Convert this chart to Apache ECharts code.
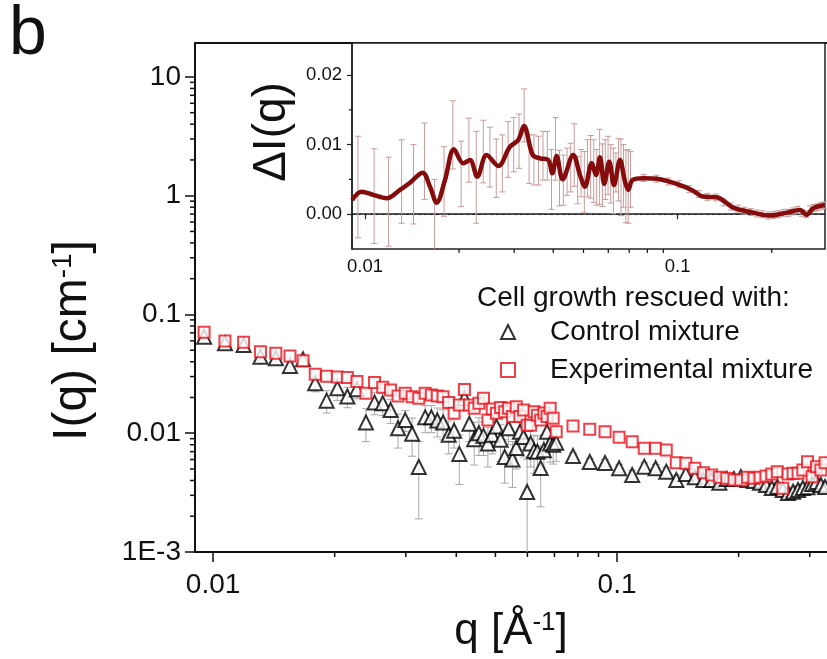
<!DOCTYPE html>
<html><head><meta charset="utf-8">
<script src="https://cdn.jsdelivr.net/npm/echarts@6/dist/echarts.min.js"></script>
<style>html,body{margin:0;padding:0;background:#fff}#c{width:827px;height:659px}</style>
</head><body><div id="c"></div>
<script>
// ---------------- data ----------------
const q = [0.0095,0.0107,0.0119,0.0131,0.0143,0.0155,0.0167,0.0179,0.0191,0.0203,0.0215,0.0227,0.0239,0.0251,0.0263,0.0275,0.0287,0.0299,0.0311,0.0323,0.0335,0.0347,0.0359,0.0371,0.0383,0.0395,0.0407,0.0419,0.0431,0.0443,0.0455,0.0467,0.0479,0.0491,0.0503,0.0515,0.0527,0.0539,0.0551,0.0563,0.0575,0.0587,0.0599,0.0611,0.0623,0.0635,0.0647,0.0659,0.0671,0.0683,0.0695,0.0707,
  0.0778,0.0856,0.0934,0.1012,0.1090,0.1168,0.1246,0.1324,0.1402,0.1480,0.1558,0.1636,0.1714,0.1792,0.1870,0.1948,0.2026,0.2104,0.2182,0.2260,0.2338,0.2416,0.2494,0.2572,0.2650,0.2728,0.2806,0.2884,0.2962,0.3040,0.3118,0.3196,0.3274];
const controlI = [0.0650,0.0572,0.0553,0.0441,0.0428,0.0369,0.0419,0.0263,0.0188,0.0239,0.0204,0.0235,0.0123,0.0181,0.0179,0.0157,0.0110,0.0129,0.0099,0.0052,0.0136,0.0136,0.0128,0.0123,0.0097,0.0105,0.0067,0.0197,0.0120,0.0089,0.0100,0.0095,0.0082,0.0097,0.0114,0.0088,0.0063,0.0110,0.0060,0.0075,0.0103,0.0093,0.0032,0.0082,0.0071,0.0070,0.0051,0.0072,0.0103,0.0082,0.0080,0.0083,
  0.00643,0.00573,0.00562,0.00507,0.00445,0.00523,0.00507,0.00475,0.00404,0.00454,0.00426,0.00404,0.00404,0.00383,0.00412,0.00411,0.00428,0.00404,0.00396,0.00383,0.00367,0.00346,0.00355,0.00333,0.00314,0.00322,0.00333,0.00346,0.00351,0.00374,0.00389,0.00367,0.00353];
const controlErr = [0.003,0.003,0.003,0.003,0.003,0.003,0.003,0.004,0.004,0.005,0.004,0.004,0.0038,0.0038,0.0038,0.0036,0.0035,0.0026,0.0035,0.0033,0.0035,0.0035,0.0035,0.0035,0.003,0.003,0.003,0.003,0.0035,0.0035,0.0035,0.003,0.003,0.003,0.003,0.003,0.0025,0.003,0.0025,0.0025,0.003,0.003,0.0028,0.003,0.0025,0.0025,0.0027,0.0025,0.0025,0.0025,0.0025,0.0025,
  0.0004,0.0004,0.0004,0.0004,0.0004,0.0004,0.0004,0.0004,0.0004,0.0004,0.0003,0.0003,0.0003,0.0003,0.0003,0.0003,0.0003,0.0003,0.0003,0.0003,0.0003,0.0003,0.0003,0.0003,0.0003,0.0003,0.0003,0.0003,0.0003,0.0003,0.0003,0.0003,0.0003];
const experimentalI = [0.0708,0.0598,0.0583,0.0486,0.0471,0.0447,0.0408,0.0314,0.0302,0.0298,0.0294,0.0272,0.0217,0.0267,0.0244,0.0231,0.0206,0.0217,0.0203,0.0197,0.0217,0.0210,0.0206,0.0203,0.0181,0.0147,0.0173,0.0234,0.0173,0.0162,0.0179,0.0197,0.0129,0.0160,0.0147,0.0165,0.0152,0.0162,0.0138,0.0167,0.0138,0.0157,0.0117,0.0117,0.0152,0.0142,0.0129,0.0148,0.0138,0.0162,0.0134,0.0103,
  0.01151,0.01080,0.0103,0.00925,0.00849,0.00747,0.00747,0.00723,0.00565,0.00558,0.00507,0.00465,0.00445,0.00426,0.00417,0.00404,0.00404,0.00426,0.00417,0.00426,0.00437,0.00454,0.00475,0.00344,0.00454,0.0046,0.0046,0.0049,0.00576,0.00431,0.00523,0.0049,0.00565];
const experimentalErr = [0.0015,0.0015,0.0015,0.0015,0.0015,0.0015,0.0015,0.0015,0.0015,0.0015,0.0015,0.0015,0.0015,0.0015,0.0015,0.0015,0.0015,0.0012,0.0012,0.0012,0.0012,0.0012,0.0012,0.0012,0.0012,0.0012,0.0012,0.0012,0.0012,0.0012,0.0012,0.0012,0.0012,0.0012,0.0012,0.0012,0.0012,0.0012,0.0012,0.0012,0.0012,0.0012,0.0012,0.0012,0.0012,0.0012,0.0012,0.0012,0.0012,0.0012,0.0012,0.0012,
  0.0003,0.0003,0.0003,0.0003,0.0003,0.0003,0.0003,0.0003,0.0003,0.0003,0.0003,0.0003,0.0003,0.0003,0.0003,0.0003,0.0003,0.0003,0.0003,0.0003,0.0003,0.0003,0.0003,0.0003,0.0003,0.0003,0.0003,0.0003,0.0003,0.0003,0.0003,0.0003,0.0003];

// inset: difference curve
const dqCurve = [0.0091,0.00976,0.01063,0.01173,0.01294,0.01393,0.01529,0.01614,0.01696,0.01803,0.01926,0.02063,0.02167,0.02286,0.0245,0.02669,0.02909,0.03092,0.03225,0.03439,0.03628,0.03857,0.03972,0.04102,0.04288,0.04636,0.04871,0.05053,0.05309,0.0548,0.05643,0.05825,0.06043,0.06257,0.06541,0.06786,0.0695,0.07178,0.07762,0.0878,0.09927,0.1109,0.1207,0.1333,0.1506,0.1745,0.1973,0.2232,0.2461,0.2585,0.2714,0.2959];
const dICurve = [0.00205,0.00324,0.00277,0.0023,0.00349,0.00453,0.00597,0.00396,0.00166,0.00492,0.00933,0.00732,0.00779,0.0054,0.00851,0.00693,0.0097,0.01066,0.01267,0.00851,0.00803,0.00779,0.00588,0.00836,0.00502,0.00851,0.00564,0.00396,0.00732,0.00564,0.00818,0.00435,0.00755,0.0042,0.00779,0.00468,0.00349,0.00492,0.00517,0.00502,0.00435,0.00349,0.00253,0.00244,0.00095,0.00023,-0.0002,0.00023,0.00062,-0.0001,0.00086,0.00133];
// inset: error bars at the measured q points
const dIPoint = [0.0039,0.0026,0.0018,0.0047,0.0043,0.0076,-0.0002,0.0047,0.0114,0.0058,0.0092,0.0053,0.0090,0.0082,0.0066,0.0073,0.0093,0.0100,0.0105,0.0142,0.0079,0.0078,0.0077,0.0084,0.0084,0.0050,0.0094,0.0052,0.0049,0.0061,0.0067,0.0085,0.0049,0.0059,0.0046,0.0066,0.0068,0.0062,0.0053,0.0068,0.0056,0.0064,0.0070,0.0058,0.0048,0.0060,0.0064,0.0053,0.0055,0.0040,0.0040,0.0050,
  0.0052,0.0051,0.0047,0.0043,0.0036,0.0029,0.0025,0.0024,0.0017,0.0011,0.0008,0.0005,0.0003,0.0001,0.0000,-0.0002,-0.0001,0.0000,0.0002,0.0002,0.0004,0.0006,0.0002,0.0000,0.0007,0.0009,0.0010,0.0012,0.0013];
const dIErr = [0.0073,0.0068,0.0064,0.0060,0.0057,0.0055,0.0052,0.0050,0.0049,0.0047,0.0046,0.0066,0.0045,0.0043,0.0042,0.0041,0.0040,0.0039,0.0039,0.0038,0.0035,0.0036,0.0035,0.0035,0.0035,0.0043,0.0045,0.0040,0.0036,0.0034,0.0035,0.0045,0.0034,0.0034,0.0044,0.0041,0.0045,0.0045,0.0040,0.0054,0.0045,0.0043,0.0042,0.0042,0.0047,0.0028,0.0045,0.0055,0.0045,0.0052,0.0053,0.0040,
  0.0005,0.0005,0.0005,0.0005,0.0005,0.0005,0.0005,0.0005,0.0005,0.0005,0.0005,0.0005,0.0005,0.0005,0.0005,0.0005,0.0005,0.0005,0.0005,0.0005,0.0005,0.0005,0.0005,0.0005,0.0005,0.0005,0.0005,0.0005,0.0005];

// ticks
const mainYTickValues = [0.001, 0.01, 0.1, 1, 10];
const mainYTickLabels = ['1E-3', '0.01', '0.1', '1', '10'];
const mainXTickValues = [0.01, 0.1];
const mainXTickLabels = ['0.01', '0.1'];
const insetYTickValues = [0, 0.01, 0.02];
const insetYTickLabels = ['0.00', '0.01', '0.02'];
const mainXMinor = [0.02,0.03,0.04,0.05,0.06,0.07,0.08,0.09,0.2,0.3];
const mainYMinor = [0.002,0.003,0.004,0.005,0.006,0.007,0.008,0.009,0.02,0.03,0.04,0.05,0.06,0.07,0.08,0.09,0.2,0.3,0.4,0.5,0.6,0.7,0.8,0.9,2,3,4,5,6,7,8,9];
const insetXMinor = [0.02,0.03,0.04,0.05,0.06,0.07,0.08,0.09,0.2];
const insetYMinor = [0.005, 0.015];

// ---------------- chart ----------------
const FONT = 'Liberation Sans, Arial, sans-serif';
const MX = [0.00902, 0.331], MY = [0.001, 19.3];
const IX = [0.00909, 0.296], IY = [-0.005, 0.0246];

function labelFor(values, labels) {
  return function (v) {
    for (let i = 0; i < values.length; i++) {
      if (Math.abs(v - values[i]) <= Math.abs(values[i]) * 1e-6 + 1e-12) return labels[i];
    }
    return '';
  };
}
function errRender(color, cap, lw, lo, hi) {
  return function (params, api) {
    const x = api.value(0), y = api.value(1), e = api.value(2);
    const y0 = Math.max(y - e, lo), y1 = Math.min(y + e, hi);
    const a = api.coord([x, y0]), b = api.coord([x, y1]);
    const st = { stroke: color, lineWidth: lw };
    const ch = [{ type: 'line', shape: { x1: a[0], y1: a[1], x2: b[0], y2: b[1] }, style: st }];
    if (y - e > lo) ch.push({ type: 'line', shape: { x1: a[0] - cap, y1: a[1], x2: a[0] + cap, y2: a[1] }, style: st });
    if (y + e < hi) ch.push({ type: 'line', shape: { x1: b[0] - cap, y1: b[1], x2: b[0] + cap, y2: b[1] }, style: st });
    return { type: 'group', children: ch };
  };
}
function minorX(len, width) {
  return function (params, api) {
    const p = api.coord([api.value(0), api.value(1)]);
    return { type: 'line', shape: { x1: p[0], y1: p[1], x2: p[0], y2: p[1] + len }, style: { stroke: '#111', lineWidth: width } };
  };
}
function minorY(len, width) {
  return function (params, api) {
    const p = api.coord([api.value(0), api.value(1)]);
    return { type: 'line', shape: { x1: p[0] - len, y1: p[1], x2: p[0], y2: p[1] }, style: { stroke: '#111', lineWidth: width } };
  };
}

const chart = echarts.init(document.getElementById('c'), null, { renderer: 'canvas' });
const axisTxt = { color: '#111', fontFamily: FONT };

chart.setOption({
  animation: false,
  backgroundColor: '#fff',
  title: [
    { text: 'b', left: 9, top: 1, padding: 0, textStyle: { fontSize: 68, fontWeight: 'normal', color: '#111', fontFamily: FONT } },
    { text: 'Cell growth rescued with:', left: 477, top: 284, padding: 0, textStyle: { fontSize: 28, fontWeight: 'normal', color: '#111', fontFamily: FONT } }
  ],
  legend: {
    data: ['Control mixture', 'Experimental mixture'],
    orient: 'vertical', left: 500, top: 318, padding: 0,
    itemWidth: 14, itemHeight: 14, itemGap: 10,
    textStyle: { fontSize: 28, color: '#111', fontFamily: FONT, padding: [0, 0, 0, 30] }
  },
  grid: [
    { left: 195, top: 43, right: 0, bottom: 107 },
    { left: 352, top: 43, right: 2, bottom: 410, show: true, backgroundColor: '#fff', borderColor: '#222', borderWidth: 1.5, z: 5 }
  ],
  xAxis: [
    { type: 'log', gridIndex: 0, min: MX[0], max: MX[1], position: 'bottom',
      axisLine: { lineStyle: { color: '#111', width: 2 } },
      axisTick: { inside: false, length: 10, lineStyle: { width: 1.5 } },
      axisLabel: { fontSize: 28, margin: 19, ...axisTxt, showMinLabel: false, showMaxLabel: false, formatter: labelFor(mainXTickValues, mainXTickLabels) },
      splitLine: { show: false }, minorTick: { show: false },
      name: '{a|q [Å}{s|-1}{a|]}', nameLocation: 'middle', nameGap: 58,
      nameTextStyle: { rich: { a: { fontSize: 44, color: '#111', fontFamily: FONT }, s: { fontSize: 26, color: '#111', fontFamily: FONT, verticalAlign: 'top' } } } },
    { type: 'log', gridIndex: 0, min: MX[0], max: MX[1], position: 'top',
      axisLine: { lineStyle: { color: '#111', width: 2 } }, axisTick: { show: false }, axisLabel: { show: false }, splitLine: { show: false } },
    { type: 'log', gridIndex: 1, min: IX[0], max: IX[1], position: 'bottom', z: 6,
      axisLine: { lineStyle: { color: '#222', width: 1.5 } },
      axisTick: { inside: false, length: 5, lineStyle: { width: 1.2 } },
      axisLabel: { fontSize: 18.5, margin: 8, ...axisTxt, showMinLabel: false, showMaxLabel: false, formatter: labelFor(mainXTickValues, mainXTickLabels) },
      splitLine: { show: false } }
  ],
  yAxis: [
    { type: 'log', gridIndex: 0, min: MY[0], max: MY[1],
      axisLine: { lineStyle: { color: '#111', width: 2 } },
      axisTick: { inside: false, length: 10, lineStyle: { width: 1.5 } },
      axisLabel: { fontSize: 28, margin: 14, ...axisTxt, showMinLabel: true, showMaxLabel: false, formatter: labelFor(mainYTickValues, mainYTickLabels) },
      splitLine: { show: false },
      name: '{a|I(q) [cm}{s|-1}{a|]}', nameLocation: 'middle', nameGap: 98, nameRotate: 90,
      nameTextStyle: { padding: [0, 86, 0, 0], rich: { a: { fontSize: 48, color: '#111', fontFamily: FONT }, s: { fontSize: 28, color: '#111', fontFamily: FONT, verticalAlign: 'top' } } } },
    { type: 'value', gridIndex: 1, min: IY[0], max: IY[1], splitNumber: 3, z: 6,
      axisLine: { show: true, lineStyle: { color: '#222', width: 1.5 } },
      axisTick: { show: true, inside: false, length: 5, lineStyle: { width: 1.2 } },
      axisLabel: { fontSize: 18.5, margin: 10, ...axisTxt, showMinLabel: false, showMaxLabel: false, formatter: labelFor(insetYTickValues, insetYTickLabels) },
      splitLine: { show: false },
      name: 'ΔI(q)', nameLocation: 'middle', nameGap: 25, nameRotate: 90,
      nameTextStyle: { fontSize: 46, color: '#111', fontFamily: FONT, padding: [0, 0, 0, 28] } }
  ],
  series: [
    { type: 'custom', name: 'ctrlErr', xAxisIndex: 0, yAxisIndex: 0, z: 1, silent: true,
      renderItem: errRender('#a8a8a8', 4, 1, MY[0], MY[1]),
      data: q.map((v, i) => [v, controlI[i], controlErr[i]]) },
    { type: 'custom', name: 'expErr', xAxisIndex: 0, yAxisIndex: 0, z: 1, silent: true,
      renderItem: errRender('#b0b0b0', 4, 1, MY[0], MY[1]),
      data: q.map((v, i) => [v, experimentalI[i], experimentalErr[i]]) },
    { type: 'scatter', name: 'Control mixture', xAxisIndex: 0, yAxisIndex: 0, z: 2,
      symbol: 'emptyTriangle', symbolSize: 14,
      itemStyle: { color: '#000', borderColor: '#000', borderWidth: 2.6 },
      data: q.map((v, i) => [v, controlI[i]]) },
    { type: 'scatter', name: 'Experimental mixture', xAxisIndex: 0, yAxisIndex: 0, z: 3,
      symbol: 'emptyRect', symbolSize: 11,
      itemStyle: { color: '#e8101a', borderColor: '#e8101a', borderWidth: 2.4 },
      data: q.map((v, i) => [v, experimentalI[i]]) },
    { type: 'custom', name: 'insetErr', xAxisIndex: 2, yAxisIndex: 1, z: 7, silent: true,
      renderItem: errRender('#c99a9a', 3, 1, IY[0], IY[1]),
      data: dIPoint.map((v, i) => [q[i], v, dIErr[i]]) },
    { type: 'line', name: 'diff', xAxisIndex: 2, yAxisIndex: 1, z: 8, smooth: 0.35,
      showSymbol: false, symbol: 'none',
      lineStyle: { color: '#850c0c', width: 4.5 },
      data: dqCurve.map((v, i) => [v, dICurve[i]]),
      markLine: { silent: true, symbol: 'none', label: { show: false },
        lineStyle: { type: [3, 3], color: '#333', width: 1 }, data: [{ yAxis: 0 }] } },
    { type: 'custom', xAxisIndex: 0, yAxisIndex: 0, silent: true, renderItem: minorX(5, 1.5),
      data: mainXMinor.map(v => [v, MY[0]]) },
    { type: 'custom', xAxisIndex: 0, yAxisIndex: 0, silent: true, renderItem: minorY(5, 1.5),
      data: mainYMinor.map(v => [MX[0], v]) },
    { type: 'custom', xAxisIndex: 2, yAxisIndex: 1, silent: true, z: 9, renderItem: minorX(4, 1.2),
      data: insetXMinor.map(v => [v, IY[0]]) },
    { type: 'custom', xAxisIndex: 2, yAxisIndex: 1, silent: true, z: 9, renderItem: minorY(3, 1.2),
      data: insetYMinor.map(v => [IX[0], v]) }
  ]
});
</script></body></html>
